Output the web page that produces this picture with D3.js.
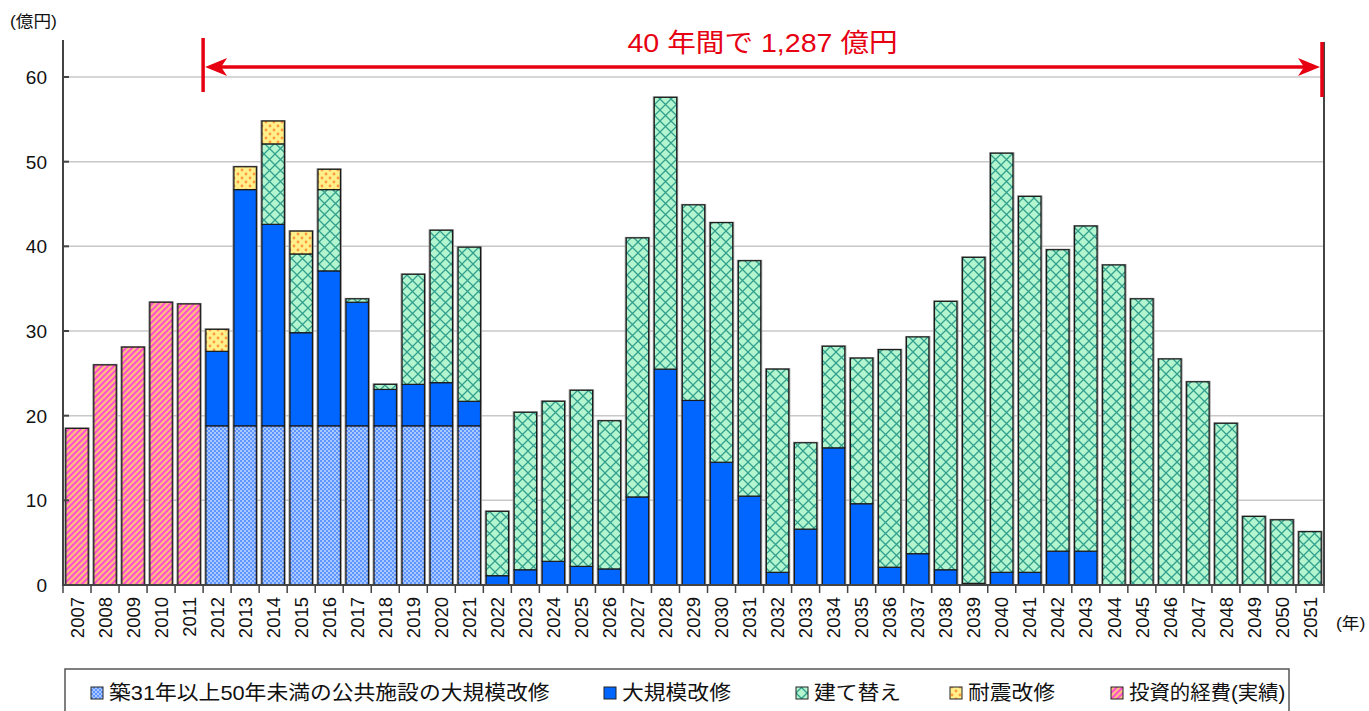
<!DOCTYPE html>
<html><head><meta charset="utf-8">
<script src="https://cdn.jsdelivr.net/npm/d3@7"></script>
<style>
html,body{margin:0;padding:0;background:#fff;}
svg{display:block;font-family:"Liberation Sans","Noto Sans CJK JP",sans-serif;}
</style></head>
<body>
<svg id="chart" width="1369" height="711"></svg>
<script>
const years = d3.range(2007, 2052).map(String);
// 投資的経費(実績) 2007-2011
const actualYears = ["2007","2008","2009","2010","2011"];
const actualValues = [18.5, 26.0, 28.1, 33.4, 33.2];
// 築31年以上50年未満の公共施設の大規模改修 2012-2021
const baseYears = ["2012","2013","2014","2015","2016","2017","2018","2019","2020","2021"];
const baseValues = [18.8, 18.8, 18.8, 18.8, 18.8, 18.8, 18.8, 18.8, 18.8, 18.8];
// 大規模改修 2012-2043
const largeYears = d3.range(2012, 2044).map(String);
const largeValues = [8.8, 27.9, 23.8, 11.0, 18.3, 14.6, 4.3, 4.9, 5.1, 2.9,
  1.1, 1.8, 2.8, 2.2, 1.9, 10.4, 25.5, 21.8, 14.5, 10.5,
  1.5, 6.6, 16.2, 9.6, 2.1, 3.7, 1.8, 0.2, 1.5, 1.5, 4.0, 4.0];
// 建て替え 2014-2051
const rebuildYears = d3.range(2014, 2052).map(String);
const rebuildValues = [9.5, 9.3, 9.6, 0.4, 0.6, 13.0, 18.0, 18.2,
  7.6, 18.6, 18.9, 20.8, 17.5, 30.6, 32.1, 23.1, 28.3, 27.8,
  24.0, 10.2, 12.0, 17.2, 25.7, 25.6, 31.7, 38.5, 49.5, 44.4,
  35.6, 38.4, 37.8, 33.8, 26.7, 24.0, 19.1, 8.1, 7.7, 6.3];
// 耐震改修 2012-2016
const seismicYears = ["2012","2013","2014","2015","2016"];
const seismicValues = [2.6, 2.7, 2.7, 2.7, 2.4];
const yTicks = [0, 10, 20, 30, 40, 50, 60];
const seriesNames = ["築31年以上50年未満の公共施設の大規模改修", "大規模改修", "建て替え", "耐震改修", "投資的経費(実績)"];
const titleText = "40 年間で 1,287 億円";
const totalStartYear = "2012";

const svg = d3.select("#chart");
const defs = svg.append("defs");

// patterns
const pBase = defs.append("pattern").attr("id","pBase").attr("patternUnits","userSpaceOnUse").attr("width",4).attr("height",4);
pBase.append("rect").attr("width",4).attr("height",4).attr("fill","#a9c8ff");
pBase.append("rect").attr("width",2).attr("height",2).attr("fill","#5f95ff");
pBase.append("rect").attr("x",2).attr("y",2).attr("width",2).attr("height",2).attr("fill","#5f95ff");

const pGreen = defs.append("pattern").attr("id","pGreen").attr("patternUnits","userSpaceOnUse").attr("width",11).attr("height",11);
pGreen.append("rect").attr("width",11).attr("height",11).attr("fill","#b2f5cf");
pGreen.append("path").attr("d","M0,0L11,11M11,0L0,11").attr("stroke","#33a08e").attr("stroke-width",1.3).attr("fill","none");

const pYellow = defs.append("pattern").attr("id","pYellow").attr("patternUnits","userSpaceOnUse").attr("width",8).attr("height",8);
pYellow.append("rect").attr("width",8).attr("height",8).attr("fill","#fff08c");
pYellow.append("circle").attr("cx",2).attr("cy",2).attr("r",1.4).attr("fill","#ff9a3c");
pYellow.append("circle").attr("cx",6).attr("cy",6).attr("r",1.4).attr("fill","#ff9a3c");

const pPink = defs.append("pattern").attr("id","pPink").attr("patternUnits","userSpaceOnUse").attr("width",6).attr("height",6);
pPink.append("rect").attr("width",6).attr("height",6).attr("fill","#ffbe80");
pPink.append("path").attr("d","M-1,7L7,-1M-4,4L4,-4M2,10L10,2").attr("stroke","#ff4fd0").attr("stroke-width",2).attr("fill","none");

const x = d3.scaleBand().domain(years).range([63, 1324]).paddingInner(0.2).paddingOuter(0.1);
const y = d3.scaleLinear().domain([0, 60]).range([585, 77]);
const step = x.step();
const boundary = i => x.range()[0] + i * step;

// grid
svg.append("g").selectAll("line").data(yTicks.filter(d => d > 0)).join("line")
  .attr("x1", 63).attr("x2", 1324).attr("y1", d => y(d)).attr("y2", d => y(d))
  .attr("stroke", "#c8c8c8").attr("stroke-width", 1.5);

// build stacked rows
function mapOf(keys, vals){ const m = new Map(); keys.forEach((k,i)=>m.set(k, vals[i])); return m; }
const mActual = mapOf(actualYears, actualValues);
const mBase = mapOf(baseYears, baseValues);
const mLarge = mapOf(largeYears, largeValues);
const mRebuild = mapOf(rebuildYears, rebuildValues);
const mSeismic = mapOf(seismicYears, seismicValues);
const rows = years.map(yr => ({year: yr, actual: mActual.get(yr)||0, base: mBase.get(yr)||0,
  large: mLarge.get(yr)||0, rebuild: mRebuild.get(yr)||0, seismic: mSeismic.get(yr)||0}));
const keys = ["actual","base","large","rebuild","seismic"];
const fills = {actual:"url(#pPink)", base:"url(#pBase)", large:"#0066ff", rebuild:"url(#pGreen)", seismic:"url(#pYellow)"};
const stack = d3.stack().keys(keys)(rows);

const bars = svg.append("g");
// shadow outline
rows.forEach(r => {
  const tot = keys.reduce((s,k)=>s+r[k],0);
  if (tot <= 0) return;
  bars.append("rect").attr("x", x(r.year)-1.5).attr("y", y(tot)-1).attr("width", x.bandwidth()+3).attr("height", y(0)-y(tot)+1)
    .attr("fill","#9a9a9a");
});
stack.forEach(s => {
  bars.append("g").selectAll("rect").data(s.filter(d => d[1]-d[0] > 0)).join("rect")
    .attr("x", d => x(d.data.year)).attr("width", x.bandwidth())
    .attr("y", d => y(d[1])).attr("height", d => y(d[0]) - y(d[1]))
    .attr("fill", fills[s.key]).attr("stroke", "#1a1a1a").attr("stroke-width", 1.2);
});

// axes
const axisColor = "#444";
svg.append("line").attr("x1",63).attr("x2",63).attr("y1",40).attr("y2",585).attr("stroke",axisColor).attr("stroke-width",2);
svg.append("line").attr("x1",1324).attr("x2",1324).attr("y1",42).attr("y2",585).attr("stroke",axisColor).attr("stroke-width",2);
svg.append("line").attr("x1",62).attr("x2",1325).attr("y1",585).attr("y2",585).attr("stroke",axisColor).attr("stroke-width",2);
svg.append("g").selectAll("line").data(yTicks).join("line")
  .attr("x1",63).attr("x2",69).attr("y1",d=>y(d)).attr("y2",d=>y(d)).attr("stroke",axisColor).attr("stroke-width",2);
svg.append("g").selectAll("text").data(yTicks).join("text")
  .attr("x",47).attr("y",d=>y(d)).attr("dy","0.36em").attr("text-anchor","end")
  .attr("font-size",19).attr("fill","#111").text(d=>d);
svg.append("g").selectAll("line").data(d3.range(years.length+1)).join("line")
  .attr("x1",i=>boundary(i)).attr("x2",i=>boundary(i)).attr("y1",585).attr("y2",593)
  .attr("stroke",axisColor).attr("stroke-width",1.5);
svg.append("g").selectAll("text").data(years).join("text")
  .attr("transform", d => `translate(${x(d)+x.bandwidth()/2},597) rotate(-90)`)
  .attr("text-anchor","end").attr("dy","0.36em").attr("font-size",18.5).attr("fill","#111").text(d=>d);

svg.append("text").attr("transform","translate(10,27) scale(1.1,1)").attr("font-size",16).attr("fill","#111").text("(億円)");
svg.append("text").attr("transform","translate(1336,629) scale(1.1,1)").attr("font-size",16).attr("fill","#111").text("(年)");

// annotation
const red = "#e60012";
const ax0 = boundary(years.indexOf(totalStartYear));
const ax1 = boundary(years.length) - 2;
svg.append("line").attr("x1",ax0).attr("x2",ax0).attr("y1",38).attr("y2",92).attr("stroke",red).attr("stroke-width",3.5);
svg.append("line").attr("x1",ax1).attr("x2",ax1).attr("y1",42).attr("y2",97).attr("stroke",red).attr("stroke-width",3.5);
const ay = 67;
svg.append("line").attr("x1",ax0+10).attr("x2",ax1-10).attr("y1",ay).attr("y2",ay).attr("stroke",red).attr("stroke-width",3.5);
svg.append("path").attr("d",`M${ax0+2},${ay}L${ax0+24},${ay-9}L${ax0+18},${ay}L${ax0+24},${ay+9}Z`).attr("fill",red);
svg.append("path").attr("d",`M${ax1-2},${ay}L${ax1-24},${ay-9}L${ax1-18},${ay}L${ax1-24},${ay+9}Z`).attr("fill",red);
svg.append("text").attr("transform",`translate(${(ax0+ax1)/2},52) scale(1.1,1)`).attr("text-anchor","middle")
  .attr("font-size",26).attr("fill",red).text(titleText);

// legend
svg.append("rect").attr("x",65).attr("y",669).attr("width",1224).attr("height",50)
  .attr("fill","#fff").attr("stroke","#555").attr("stroke-width",1.5);
const legendFills = ["url(#pBase)","#0066ff","url(#pGreen)","url(#pYellow)","url(#pPink)"];
const legendX = [91, 604, 796, 950, 1111];
const legendScale = [1.09, 1.09, 1.09, 1.09, 1.02];
const lg = svg.append("g").selectAll("g").data(seriesNames).join("g")
  .attr("transform",(d,i)=>`translate(${legendX[i]},693)`);
lg.append("rect").attr("x",0).attr("y",-6).attr("width",12).attr("height",12)
  .attr("fill",(d,i)=>legendFills[i]).attr("stroke","#222").attr("stroke-width",1);
lg.append("text").attr("transform",(d,i)=>`translate(18,0) scale(${legendScale[i]},1)`).attr("dy","0.36em").attr("font-size",20).attr("fill","#111").text(d=>d);
</script>
</body></html>
